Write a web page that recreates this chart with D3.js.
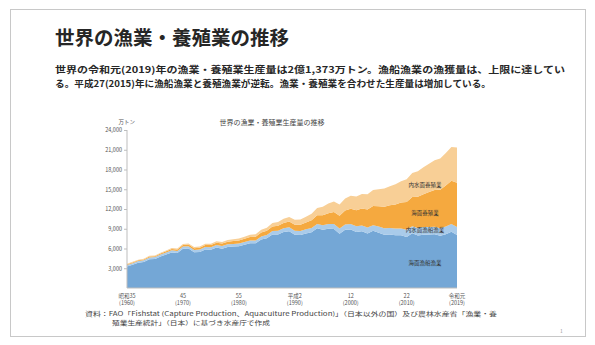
<!DOCTYPE html>
<html lang="ja">
<head>
<meta charset="utf-8">
<script src="https://cdn.jsdelivr.net/npm/d3@7"></script>
<style>
  html, body { margin: 0; padding: 0; background: #fff; }
  svg { display: block; font-family: "Noto Sans CJK JP", "Noto Sans", sans-serif; }
</style>
</head>
<body>
<svg id="chart" width="595" height="345"></svg>
<script>
// 世界の漁業・養殖業生産量（万トン）
const years = d3.range(1960, 2020);

const marineCapture = [
  3260, 3520, 3830, 3940, 4360, 4400, 4780, 5080, 5400, 5300,
  5960, 5990, 5420, 5470, 5840, 5800, 6150, 5980, 6240, 6290,
  6330, 6560, 6780, 6780, 7360, 7550, 8130, 8140, 8500, 8630,
  8100, 8040, 8290, 8470, 9060, 8860, 8990, 8980, 8250, 8830,
  8880, 8510, 8630, 8280, 8680, 8400, 8100, 8130, 8020, 8000,
  7740, 8320, 7970, 8090, 8130, 8160, 7920, 8170, 8530, 8040
];
const inlandCapture = [
  240, 250, 260, 270, 280, 290, 300, 310, 320, 330,
  340, 350, 355, 360, 370, 375, 380, 390, 400, 410,
  420, 430, 440, 450, 470, 490, 520, 540, 560, 590,
  610, 620, 620, 630, 650, 690, 720, 750, 780, 820,
  860, 870, 880, 900, 860, 930, 980, 1000, 1030, 1050,
  1120, 1070, 1160, 1160, 1140, 1150, 1160, 1190, 1200, 1210
];
const marineAquaculture = [
  100, 110, 120, 130, 140, 150, 160, 180, 200, 220,
  240, 260, 280, 300, 320, 340, 360, 380, 400, 430,
  460, 490, 520, 560, 600, 640, 700, 760, 820, 870,
  900, 950, 1050, 1180, 1330, 1500, 1650, 1800, 1950, 2120,
  2300, 2440, 2580, 2740, 2900, 3080, 3260, 3450, 3650, 3920,
  4200, 4450, 4720, 5000, 5300, 5580, 5860, 6200, 6550, 6750
];
const inlandAquaculture = [
  90, 95, 100, 105, 110, 115, 120, 130, 140, 150,
  160, 170, 180, 190, 200, 215, 230, 245, 260, 280,
  300, 320, 340, 370, 410, 460, 520, 580, 640, 690,
  740, 780, 860, 980, 1130, 1300, 1460, 1600, 1700, 1830,
  1960, 2080, 2200, 2320, 2450, 2600, 2760, 2880, 3050, 3230,
  3450, 3640, 3880, 4100, 4320, 4520, 4740, 4930, 5130, 5330
];

const seriesKeys = ["marineCapture", "inlandCapture", "marineAquaculture", "inlandAquaculture"];
const seriesNames = ["海面漁船漁業", "内水面漁船漁業", "海面養殖業", "内水面養殖業"];
const seriesColors = ["#74a7d6", "#a9cbea", "#f5a93f", "#f8cf96"];

const yTicks = [3000, 6000, 9000, 12000, 15000, 18000, 21000, 24000];
const xTickYears = [1960, 1970, 1980, 1990, 2000, 2010, 2019];
const xTickEra = ["昭和35", "45", "55", "平成2", "12", "22", "令和元"];

const svg = d3.select("#chart");

// slide frame
svg.append("rect")
  .attr("x", 10.5).attr("y", 9.5).attr("width", 575).attr("height", 327)
  .attr("fill", "none").attr("stroke", "#c8c8c8").attr("stroke-width", 1);

// heading
svg.append("text")
  .attr("x", 55).attr("y", 45)
  .attr("font-size", 19.5).attr("font-weight", 700).attr("fill", "#262626")
  .text("世界の漁業・養殖業の推移");

const lead = [
  "世界の令和元(2019)年の漁業・養殖業生産量は2億1,373万トン。漁船漁業の漁獲量は、上限に達してい",
  "る。平成27(2015)年に漁船漁業と養殖漁業が逆転。漁業・養殖業を合わせた生産量は増加している。"
];
const leadWidths = [510, 436];
svg.selectAll("text.lead").data(lead).join("text")
  .attr("class", "lead")
  .attr("x", 55).attr("y", (d, i) => 73 + i * 14)
  .attr("font-size", 9).attr("font-weight", 700).attr("fill", "#262626")
  .attr("textLength", (d, i) => leadWidths[i]).attr("lengthAdjust", "spacingAndGlyphs")
  .text(d => d);

// chart
const x = d3.scaleLinear().domain([1960, 2019]).range([127, 457]);
const y = d3.scaleLinear().domain([0, 24000]).range([288, 130]);

const table = years.map((yr, i) => ({
  year: yr,
  marineCapture: marineCapture[i],
  inlandCapture: inlandCapture[i],
  marineAquaculture: marineAquaculture[i],
  inlandAquaculture: inlandAquaculture[i]
}));

const stacked = d3.stack().keys(seriesKeys)(table);
const area = d3.area()
  .x(d => x(d.data.year))
  .y0(d => y(d[0]))
  .y1(d => y(d[1]));

svg.append("g").selectAll("path").data(stacked).join("path")
  .attr("d", area)
  .attr("fill", (d, i) => seriesColors[i]);

// chart title
svg.append("text")
  .attr("x", 272).attr("y", 125).attr("text-anchor", "middle")
  .attr("font-size", 7).attr("fill", "#444")
  .text("世界の漁業・養殖業生産量の推移");

// y axis
const yAxis = d3.axisLeft(y).tickValues(yTicks).tickSize(3).tickFormat(d3.format(","));
const gy = svg.append("g").attr("transform", "translate(127,0)").call(yAxis);
gy.select(".domain").attr("stroke", "#bdbdbd").attr("d", "M0,130V288");
gy.selectAll(".tick line").attr("stroke", "#bdbdbd");
gy.selectAll(".tick text").attr("font-size", 5.5).attr("fill", "#555").attr("x", -5)
  .attr("font-family", "Noto Sans CJK JP, sans-serif");

svg.append("text")
  .attr("x", 135).attr("y", 124).attr("text-anchor", "end")
  .attr("font-size", 5.5).attr("fill", "#555")
  .text("万トン");

// x axis
const gx = svg.append("g").attr("transform", "translate(0,288)");
gx.append("line").attr("x1", 127).attr("x2", 457).attr("stroke", "#bdbdbd");
const xt = gx.selectAll("g.xt").data(xTickYears).join("g")
  .attr("class", "xt")
  .attr("transform", d => `translate(${x(d)},0)`);
xt.append("text").attr("y", 10).attr("text-anchor", "middle")
  .attr("font-size", 5.5).attr("fill", "#555")
  .text((d, i) => xTickEra[i]);
xt.append("text").attr("y", 17).attr("text-anchor", "middle")
  .attr("font-size", 5.5).attr("fill", "#555")
  .text(d => `(${d})`);

// series labels
const labelPos = [[425, 265], [425, 232], [425, 215], [425, 187]];
svg.selectAll("text.slabel").data(seriesNames).join("text")
  .attr("class", "slabel")
  .attr("x", (d, i) => labelPos[i][0]).attr("y", (d, i) => labelPos[i][1])
  .attr("text-anchor", "middle").attr("font-size", 5.5).attr("fill", "#333")
  .text(d => d);

// source note
const notes = [
  "資料：FAO「Fishstat (Capture Production、Aquaculture Production)」（日本以外の国）及び農林水産省「漁業・養",
  "殖業生産統計」（日本）に基づき水産庁で作成"
];
const noteX = [85, 112];
const noteW = [412, 158];
svg.selectAll("text.note").data(notes).join("text")
  .attr("class", "note")
  .attr("x", (d, i) => noteX[i]).attr("y", (d, i) => 316 + i * 9)
  .attr("font-size", 6).attr("fill", "#444")
  .attr("textLength", (d, i) => noteW[i]).attr("lengthAdjust", "spacingAndGlyphs")
  .text(d => d);

// page number
svg.append("text")
  .attr("x", 560).attr("y", 333).attr("font-size", 5).attr("fill", "#999")
  .text("1");
</script>
</body>
</html>
